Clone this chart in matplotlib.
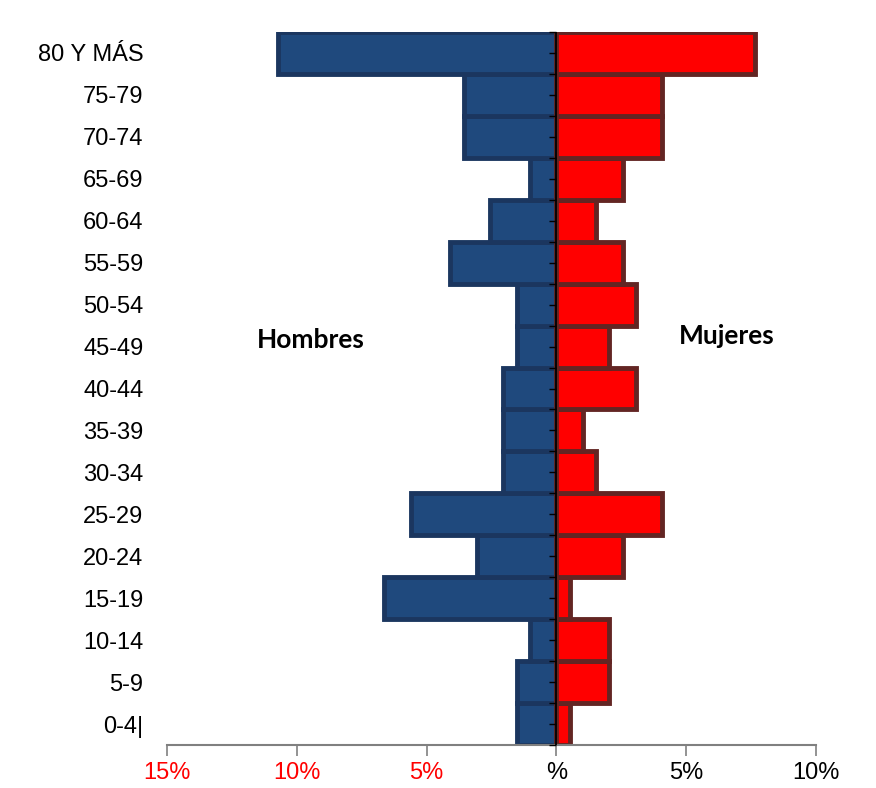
import numpy as np
import matplotlib.pyplot as plt

edades = ['0-4|', '5-9', '10-14', '15-19', '20-24', '25-29', '30-34', '35-39',
          '40-44', '45-49', '50-54', '55-59', '60-64', '65-69', '70-74',
          '75-79', '80 Y MÁS']
hombres = [1.53, 1.53, 1.02, 6.63, 3.06, 5.61, 2.04, 2.04,
           2.04, 1.53, 1.53, 4.08, 2.55, 1.02, 3.57, 3.57, 10.71]
mujeres = [0.51, 2.04, 2.04, 0.51, 2.55, 4.08, 1.53, 1.02,
           3.06, 2.04, 3.06, 2.55, 1.53, 2.55, 4.08, 4.08, 7.65]
xticks = [-15, -10, -5, 0, 5, 10]
xlabels = ['15%', '10%', '5%', '%', '5%', '10%']

sans = ['Liberation Sans', 'DejaVu Sans']

fig = plt.figure(figsize=(8.76, 7.88), dpi=100)
ax = fig.add_axes([167/876, 1 - 745/788, (816 - 167)/876, (745 - 32)/788])

y = np.arange(len(edades))
ax.barh(y, -np.array(hombres), height=1.0, color='#1f497d',
        edgecolor='#1b365f', linewidth=3.5, zorder=2)
ax.barh(y, mujeres, height=1.0, color='#ff0000',
        edgecolor='#632523', linewidth=3.5, zorder=2)

# centre line with its small ticks
ax.axvline(0, color='black', lw=1.3, zorder=4)
marks = np.arange(-0.5, len(edades), 0.5)
ax.plot(np.zeros_like(marks), marks, ls='none', marker=0, ms=5,
        mew=1.0, color='black', zorder=4, clip_on=False)

ax.set_xlim(-15, 10)
ax.set_ylim(-0.5, len(edades) - 0.5)

for s in ['top', 'right', 'left']:
    ax.spines[s].set_visible(False)
ax.spines['bottom'].set_color('#808080')
ax.spines['bottom'].set_linewidth(1.5)

ax.set_yticks(y)
ax.set_yticklabels(edades, fontsize=17, family=sans)
ax.tick_params(axis='y', length=0, pad=17)

ax.set_xticks(xticks)
ax.set_xticklabels(xlabels, fontsize=17, family=sans)
ax.tick_params(axis='x', length=8, width=1.2, color='#808080', pad=4)
for t, v in zip(ax.get_xticklabels(), xticks):
    t.set_color('red' if v < 0 else 'black')

ax.text(-9.45, 9.15, 'Hombres', fontsize=19, fontweight='bold',
        family=['Lato', 'DejaVu Sans'], ha='center', va='center')
ax.text(6.55, 9.25, 'Mujeres', fontsize=19, fontweight='bold',
        family=['Lato', 'DejaVu Sans'], ha='center', va='center')

fig.savefig('out.png', dpi=100)
